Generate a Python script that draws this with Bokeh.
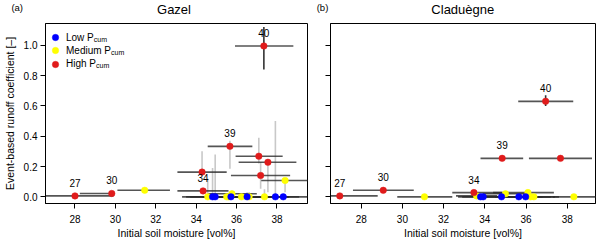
from bokeh.plotting import figure
from bokeh.layouts import row, column
from bokeh.models import (ColumnDataSource, Range1d, Label, Legend, LegendItem, Div,
                          FixedTicker, PrintfTickFormatter, CustomJSTickFormatter,
                          GlobalInlineStyleSheet)
from bokeh.embed import file_html
from bokeh.resources import INLINE
from bokeh.core.properties import value

# ---------------- data ----------------
classes = ["Low", "Medium", "High"]
class_labels = ["Low P", "Medium P", "High P"]
yticks = [0.0, 0.2, 0.4, 0.6, 0.8, 1.0]
xticks = [28, 30, 32, 34, 36, 38]
panel_tags = ["(a)", "(b)"]
panel_names = ["Gazel", "Claduègne"]

# Panel (a) Gazel
a_x = [28.00, 29.82, 31.45, 34.29, 34.34, 35.67, 37.10, 37.55, 37.19, 38.40, 37.35,
       34.57, 34.81, 34.94, 35.51, 35.60, 35.72, 35.77, 36.24, 36.52, 36.62, 37.38, 37.92, 38.31]
a_y = [0.006, 0.022, 0.043, 0.163, 0.039, 0.333, 0.268, 0.228, 0.141, 0.108, 0.995,
       0.0, 0.0, 0.0, 0.0, 0.0, 0.0, 0.02, 0.0, 0.0, 0.0, 0.0, 0.0, 0.0]
a_cls = ["High", "High", "Medium", "High", "High", "High", "High", "High", "High", "Medium", "High",
         "Medium", "Low", "Low", "Medium", "Medium", "Low", "Medium", "Medium", "Low", "Medium", "Medium", "Low", "Low"]
a_xlo = [26.10, 28.24, 30.10, 33.07, 33.07, 34.57, 35.95, 36.10, 35.72, 37.22, 35.92,
         33.30, 33.50, 33.70, 34.30, 34.40, 34.50, 34.60, 35.00, 35.30, 35.40, 36.10, 36.70, 37.10]
a_xhi = [29.90, 29.95, 32.70, 35.51, 35.60, 36.78, 38.28, 38.96, 38.65, 39.60, 38.81,
         35.80, 36.10, 36.20, 36.70, 36.80, 37.00, 37.00, 37.50, 37.70, 37.80, 38.60, 39.10, 39.50]
a_ylo = [0.006, 0.022, 0.043, 0.163, 0.039, 0.185, 0.22, 0.03, 0.054, 0.03, 0.84,
         0.0, 0.0, 0.0, 0.0, 0.0, 0.0, 0.02, 0.0, 0.0, 0.0, 0.0, 0.0, 0.0]
a_yhi = [0.006, 0.022, 0.043, 0.30, 0.039, 0.37, 0.39, 0.228, 0.23, 0.11, 1.12,
         0.12, 0.19, 0.28, 0.0, 0.0, 0.0, 0.04, 0.0, 0.03, 0.03, 0.05, 0.50, 0.0]
a_lab = ["27", "30", "", "", "34", "39", "", "", "", "", "40",
         "", "", "", "", "", "", "", "", "", "", "", "", ""]

# Panel (b) Claduègne
b_x = [26.96, 29.07, 31.07, 33.47, 33.60, 33.79, 33.92, 34.81, 35.00, 35.65, 35.98, 36.09,
       36.22, 36.38, 38.32, 34.84, 37.67, 36.95]
b_y = [0.006, 0.043, 0.0, 0.028, 0.006, 0.0, 0.0, 0.0, 0.02, 0.0, 0.0, 0.028,
       0.0, 0.0, 0.0, 0.254, 0.254, 0.63]
b_cls = ["High", "High", "Medium", "High", "Medium", "Low", "Low", "Low", "Medium", "Low", "Low", "Medium",
         "Medium", "Medium", "Medium", "High", "High", "High"]
b_xlo = [26.00, 27.60, 29.75, 32.42, 32.60, 32.70, 32.90, 33.60, 33.90, 34.50, 34.80, 34.40,
         35.00, 35.20, 37.30, 33.79, 36.14, 35.62]
b_xhi = [28.80, 30.55, 32.42, 34.84, 34.60, 34.90, 35.00, 36.00, 36.10, 36.80, 37.20, 37.35,
         37.40, 37.60, 39.50, 35.86, 39.20, 38.29]
b_ylo = [0.006, 0.043, 0.0, 0.028, 0.006, 0.0, 0.0, 0.0, 0.02, 0.0, 0.0, 0.028,
         0.0, 0.0, 0.0, 0.254, 0.254, 0.60]
b_yhi = [0.006, 0.043, 0.0, 0.028, 0.006, 0.0, 0.0, 0.0, 0.02, 0.0, 0.0, 0.028,
         0.0, 0.0, 0.0, 0.254, 0.254, 0.67]
b_lab = ["27", "30", "", "34", "", "", "", "", "", "", "", "",
         "", "", "", "39", "", "40"]

COLORS = {"Low": "#0000ff", "Medium": "#ffff00", "High": "#e01b1b"}
FONT = "Liberation Sans"


def make_panel(xs, ys, cls, xlo, xhi, ylo, yhi, labs, xr, width, bl, br, show_ylabels):
    p = figure(width=width, height=219, x_range=Range1d(*xr), y_range=Range1d(-0.044, 1.1435),
               min_border_left=bl, min_border_right=br, min_border_top=1, min_border_bottom=36,
               output_backend="svg", toolbar_location=None)
    p.xgrid.visible = False
    p.ygrid.visible = False
    p.outline_line_color = "black"
    p.outline_line_alpha = 1.0
    p.outline_line_width = 1
    p.background_fill_color = "white"

    vcol = ["#333333" if l == "40" else "#c8c8c8" for l in labs]
    src = ColumnDataSource(dict(x=xs, y=ys, cls=cls, xlo=xlo, xhi=xhi, ylo=ylo, yhi=yhi,
                                lab=labs, vcol=vcol))
    p.segment(x0="x", y0="ylo", x1="x", y1="yhi", line_color="vcol", line_width=1.6, source=src)
    p.segment(x0="xlo", y0="y", x1="xhi", y1="y", line_color="#2a2a2a", line_alpha=0.8,
              line_width=1.6, source=src)

    rends = {}
    for c in ["Medium", "Low", "High"]:
        idx = [i for i, k in enumerate(cls) if k == c]
        s = ColumnDataSource(dict(x=[xs[i] for i in idx], y=[ys[i] for i in idx]))
        rends[c] = p.scatter("x", "y", source=s, size=6.5, fill_color=COLORS[c],
                             line_color=COLORS[c], line_width=0.5)

    lidx = [i for i, l in enumerate(labs) if l]
    lsrc = ColumnDataSource(dict(x=[xs[i] for i in lidx], y=[ys[i] for i in lidx],
                                 t=[labs[i] for i in lidx]))
    p.text("x", "y", text="t", source=lsrc, y_offset=-13, text_align="center",
           text_baseline="middle", text_font=value(FONT), text_font_size="10px",
           text_color="black")

    for ax in (p.xaxis[0], p.yaxis[0]):
        ax.axis_line_color = "black"
        ax.major_tick_line_color = "black"
        ax.minor_tick_line_color = None
        ax.major_tick_out = 5
        ax.major_tick_in = 0
        ax.major_label_text_font = FONT
        ax.major_label_text_font_size = "10px"
        ax.major_label_text_color = "black"
        ax.axis_label_text_font = FONT
        ax.axis_label_text_font_size = "10.5px"
        ax.axis_label_text_font_style = "normal"
        ax.axis_label_text_color = "black"
    p.xaxis.ticker = FixedTicker(ticks=xticks)
    p.yaxis.ticker = FixedTicker(ticks=yticks)
    p.xaxis.axis_label = "Initial soil moisture [vol%]"
    p.xaxis.major_label_standoff = 6
    p.xaxis.axis_label_standoff = 1
    if show_ylabels:
        p.yaxis.formatter = PrintfTickFormatter(format="%.1f")
        p.yaxis.axis_label = "Event-based runoff coefficient [\u2013]"
        p.yaxis.major_label_standoff = 3
        p.yaxis.axis_label_standoff = 5
    else:
        p.yaxis.formatter = CustomJSTickFormatter(code="return ''")
        p.yaxis.major_label_standoff = 0
    return p, rends


p1, r1 = make_panel(a_x, a_y, a_cls, a_xlo, a_xhi, a_ylo, a_yhi, a_lab,
                    (26.54, 39.51), 315, 41, 8, True)
p2, r2 = make_panel(b_x, b_y, b_cls, b_xlo, b_xhi, b_ylo, b_yhi, b_lab,
                    (26.51, 39.37), 285, 15, 5, False)

# legend in panel (a): one single-item legend per row, so rows sit 13 px apart
leg_vy = [157.8, 144.6, 131.4]
for c, lab, vy in zip(classes, class_labels, leg_vy):
    leg = Legend(items=[LegendItem(label=lab, renderers=[r1[c]])], location=(2, vy),
                 padding=0, margin=0, spacing=0,
                 glyph_width=16, glyph_height=16, label_height=16, label_standoff=3,
                 label_text_font=FONT, label_text_font_size="10px", label_text_color="black",
                 border_line_color=None, background_fill_alpha=0)
    p1.add_layout(leg)
sub_x = [48.3, 65.5, 50.5]
sub_y = [164.4, 151.2, 138.0]
for sx, sy in zip(sub_x, sub_y):
    p1.add_layout(Label(x=sx, y=sy, x_units="screen", y_units="screen", text="cum",
                        text_align="left", text_baseline="middle", text_font=FONT,
                        text_font_size="7px", text_color="black"))

# header with panel tags and titles
span = ('<span style="position:absolute;left:{x}px;top:{y}px;transform:translate(-50%,-50%);'
        'font-size:{fs}px;line-height:1;white-space:nowrap;">{t}</span>')
hdr = ('<div style="position:relative;width:600px;height:22px;font-family:\'Liberation Sans\';color:black;">'
       + span.format(x=17.2, y=7.5, fs=9.5, t=panel_tags[0])
       + span.format(x=174, y=8.5, fs=13, t=panel_names[0])
       + span.format(x=322.5, y=7.5, fs=9.5, t=panel_tags[1])
       + span.format(x=462.8, y=8.5, fs=13, t=panel_names[1])
       + '</div>')
header = Div(text=hdr, width=600, height=22, margin=0)

layout = column(header, row(p1, p2), spacing=0,
                stylesheets=[GlobalInlineStyleSheet(css="body{margin:0 !important;}")])
open("out.html", "w").write(file_html(layout, INLINE))
